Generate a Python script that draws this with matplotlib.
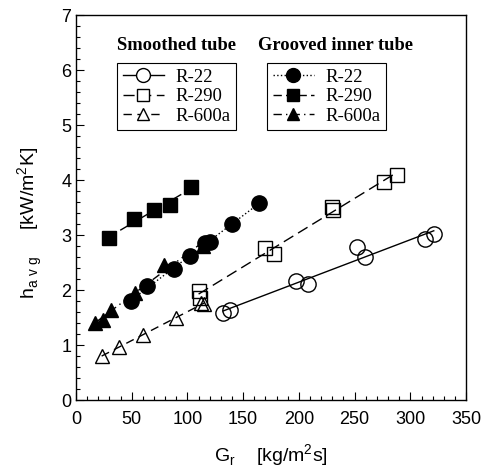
import numpy as np
import matplotlib.pyplot as plt
from matplotlib.ticker import MultipleLocator

# smoothed tube (open markers)
s_r22_g = [132, 138, 197, 208, 252, 259, 313, 321]
s_r22_h = [1.58, 1.64, 2.17, 2.11, 2.79, 2.61, 2.93, 3.02]
s_r290_g = [110, 111, 170, 178, 230, 231, 276, 288]
s_r290_h = [1.98, 1.86, 2.76, 2.66, 3.51, 3.46, 3.96, 4.10]
s_r600_g = [23, 39, 60, 90, 112, 115]
s_r600_h = [0.80, 0.97, 1.18, 1.50, 1.76, 1.74]

# grooved inner tube (filled markers)
g_r22_g = [49, 64, 88, 102, 116, 120, 140, 164]
g_r22_h = [1.80, 2.07, 2.38, 2.62, 2.85, 2.88, 3.20, 3.58]
g_r290_g = [30, 52, 70, 84, 103]
g_r290_h = [2.94, 3.30, 3.46, 3.54, 3.87]
g_r600_g = [17, 24, 31, 53, 79, 114]
g_r600_h = [1.40, 1.45, 1.63, 1.95, 2.46, 2.80]

labels = ['R-22', 'R-290', 'R-600a']

plt.rcParams['font.family'] = ['Liberation Sans', 'DejaVu Sans']
fig = plt.figure(figsize=(4.84, 4.72), dpi=100)
ax = fig.add_axes([0.157, 0.1525, 0.806, 0.8155])

serif = ['Liberation Serif', 'DejaVu Serif']
MS = {'o': 11, 's': 10, '^': 10}


def series(g, h, marker, filled, ls, label):
    g = np.array(g, float)
    h = np.array(h, float)
    k, b = np.polyfit(g, h, 1)
    xs = np.array([g.min(), g.max()])
    ax.plot(xs, k * xs + b, color='black', lw=1.0, ls=ls)
    ax.plot(g, h, ls='none', marker=marker, ms=MS[marker],
            mfc='black' if filled else 'none', mec='black', mew=1.0)
    # proxy for legend: line + marker
    proxy, = ax.plot([], [], color='black', lw=1.0, ls=ls, marker=marker, ms=MS[marker] - 1,
                     mfc='black' if filled else 'white', mec='black', mew=1.0, label=label)
    return proxy


h1 = series(s_r22_g, s_r22_h, 'o', False, '-', labels[0])
h2 = series(s_r290_g, s_r290_h, 's', False, (0, (8, 4)), labels[1])
h3 = series(s_r600_g, s_r600_h, '^', False, (0, (6, 4)), labels[2])
h4 = series(g_r22_g, g_r22_h, 'o', True, ':', labels[0])
h5 = series(g_r290_g, g_r290_h, 's', True, (0, (6, 3)), labels[1])
h6 = series(g_r600_g, g_r600_h, '^', True, (0, (6, 3, 1, 3)), labels[2])

legkw = dict(frameon=True, fancybox=False, edgecolor='black', framealpha=1,
             prop={'family': serif, 'size': 13.5}, handlelength=2.2, handletextpad=0.6,
             labelspacing=0.12, borderpad=0.3, borderaxespad=0)
leg1 = ax.legend(handles=[h1, h2, h3], loc='upper left',
                 bbox_to_anchor=(0.105, 0.875), **legkw)
leg1.get_frame().set_linewidth(0.8)
ax.add_artist(leg1)
leg2 = ax.legend(handles=[h4, h5, h6], loc='upper left',
                 bbox_to_anchor=(0.49, 0.875), **legkw)
leg2.get_frame().set_linewidth(0.8)

ax.text(0.258, 0.922, 'Smoothed tube', transform=ax.transAxes, ha='center', va='center',
        family=serif, fontsize=13.3, fontweight='bold')
ax.text(0.665, 0.922, 'Grooved inner tube', transform=ax.transAxes, ha='center', va='center',
        family=serif, fontsize=13.3, fontweight='bold')

ax.set_xlim(0, 350)
ax.set_ylim(0, 7)
ax.xaxis.set_major_locator(MultipleLocator(50))
ax.xaxis.set_minor_locator(MultipleLocator(10))
ax.yaxis.set_major_locator(MultipleLocator(1))
ax.yaxis.set_minor_locator(MultipleLocator(0.2))
ax.tick_params(which='both', direction='in', top=False, right=False, labelsize=13)
ax.tick_params(which='major', length=6, width=0.8)
ax.tick_params(which='minor', length=3, width=0.8)
ax.tick_params(axis='x', pad=8)
for sp in ax.spines.values():
    sp.set_linewidth(1.0)

ax.set_xlabel(r'G$_{\mathregular{r}}$    [kg/m$^{\mathregular{2}}$s]', fontsize=14, labelpad=10)
ax.set_ylabel(r'h$_{\mathregular{a\ v\ g}}$     [kW/m$^{\mathregular{2}}$K]', fontsize=14)
ax.yaxis.set_label_coords(-0.08, 0.46)

fig.savefig('out.png', dpi=100)
